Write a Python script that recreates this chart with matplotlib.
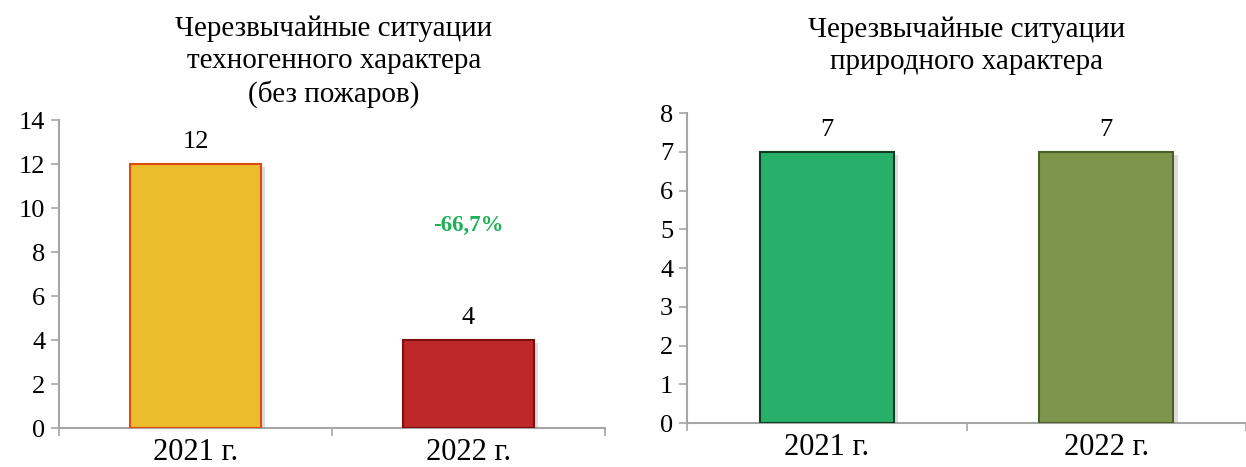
import matplotlib
matplotlib.use("Agg")
import matplotlib.pyplot as plt
import matplotlib.patheffects as pe

plt.rcParams["font.family"] = ["Liberation Serif", "DejaVu Serif"]

# ── Data ──────────────────────────────────────────────────────────────────────
YEARS = ["2021 г.", "2022 г."]

TECH_VALUES = [12, 4]
TECH_TITLE = "Черезвычайные ситуации\nтехногенного характера\n(без пожаров)"
TECH_CHANGE = "-66,7%"

NATURAL_VALUES = [7, 7]
NATURAL_TITLE = "Черезвычайные ситуации\nприродного характера"

# ── Styles ────────────────────────────────────────────────────────────────────
TECH_FACE = ["#EBBD2C", "#BE2828"]
TECH_EDGE = ["#DD4A12", "#7C0F0F"]
NAT_FACE = ["#28AF6A", "#7E964C"]
NAT_EDGE = ["#0F3B21", "#4C5E2A"]
SPINE = "#A6A6A6"
BAR_W = 0.48

shadow = [pe.SimplePatchShadow(offset=(3, -2), shadow_rgbFace="#909090", alpha=0.3),
          pe.Normal()]


def style_axes(ax, ymax, ystep, xmax):
    ax.set_xlim(-0.5, xmax)
    ax.set_ylim(0, ymax)
    ax.set_yticks(range(0, ymax + 1, ystep))
    ax.set_xticks(range(len(YEARS)))
    ax.set_xticklabels(YEARS, fontsize=22)
    ax.set_xticks([-0.5, 0.5, 1.5], minor=True)
    ax.tick_params(axis="x", which="major", length=0, pad=7)
    ax.tick_params(axis="x", which="minor", length=6, color=SPINE, width=1.2)
    ax.tick_params(axis="y", length=6, color=SPINE, width=1.2, labelsize=19, pad=4)
    for s in ("top", "right"):
        ax.spines[s].set_visible(False)
    for s in ("left", "bottom"):
        ax.spines[s].set_color(SPINE)
        ax.spines[s].set_linewidth(1.5)


fig = plt.figure(figsize=(12.46, 4.67), dpi=100)

# ── Left: technogenic ─────────────────────────────────────────────────────────
ax1 = fig.add_axes([0.0474, 0.0835, 0.4382, 0.6595])
bars1 = ax1.bar(range(len(YEARS)), TECH_VALUES, width=BAR_W,
                color=TECH_FACE, edgecolor=TECH_EDGE, linewidth=1.5, zorder=3)
for b in bars1:
    b.set_path_effects(shadow)
ax1.bar_label(bars1, labels=[str(v) for v in TECH_VALUES], padding=8, fontsize=19)
ax1.text(1, 9.2, TECH_CHANGE, color="#1DB055", fontsize=16.5, fontweight="bold",
         ha="center", va="center")
style_axes(ax1, 14, 2, 1.5)
fig.text(0.268, 1 - 62 / 467, TECH_TITLE, ha="center", va="center",
         fontsize=21, linespacing=1.3)

# ── Right: natural ────────────────────────────────────────────────────────────
ax2 = fig.add_axes([0.5514, 0.0942, 0.4486, 0.6638])
bars2 = ax2.bar(range(len(YEARS)), NATURAL_VALUES, width=BAR_W,
                color=NAT_FACE, edgecolor=NAT_EDGE, linewidth=1.5, zorder=3)
for b in bars2:
    b.set_path_effects(shadow)
ax2.bar_label(bars2, labels=[str(v) for v in NATURAL_VALUES], padding=8, fontsize=19)
style_axes(ax2, 8, 1, 1.475)
fig.text(0.776, 1 - 46 / 467, NATURAL_TITLE, ha="center", va="center",
         fontsize=21, linespacing=1.3)

fig.savefig("out.png", dpi=100)
